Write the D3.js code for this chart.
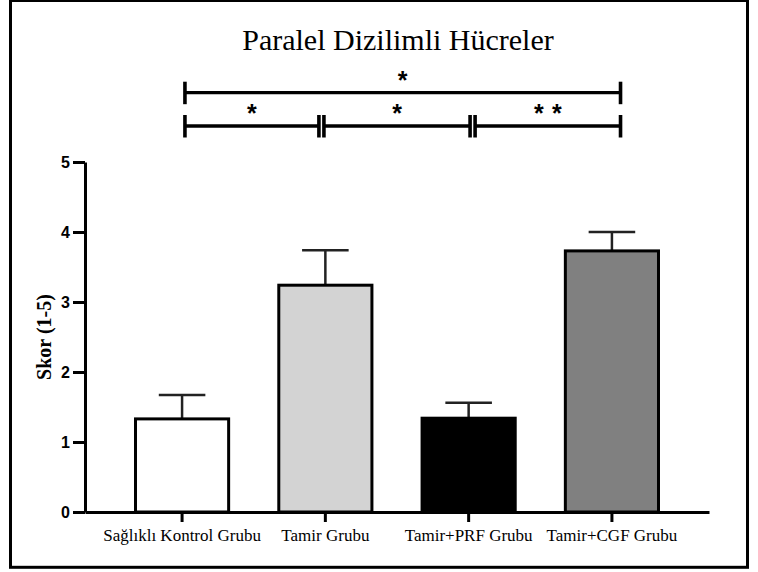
<!DOCTYPE html>
<html>
<head>
<meta charset="utf-8">
<script src="https://cdn.jsdelivr.net/npm/d3@7"></script>
<style>
  html, body { margin: 0; padding: 0; background: #fff; }
  svg { display: block; }
</style>
</head>
<body>
<svg id="chart" width="758" height="572"></svg>
<script>
// Group names, mean scores and their error (SD) values
const categories = ["Sağlıklı Kontrol Grubu", "Tamir Grubu", "Tamir+PRF Grubu", "Tamir+CGF Grubu"];
const means = [1.33, 3.24, 1.34, 3.73];
const errors = [0.34, 0.50, 0.22, 0.27];
const fills = ["#ffffff", "#d3d3d3", "#000000", "#808080"];
const yTicks = [0, 1, 2, 3, 4, 5];

// Significance brackets, in group-index units (0 = first group, 3 = last)
const bracketFrom = [0.02, 0.02, 0.99, 2.045];
const bracketTo = [3.06, 0.955, 2.01, 3.06];
const bracketRow = [0, 1, 1, 1];
const bracketStars = ["*", "*", "*", "**"];

const serif = "'Liberation Serif', 'Times New Roman', 'DejaVu Serif', serif";
const sans = "'Liberation Sans', Arial, 'DejaVu Sans', sans-serif";

const svg = d3.select("#chart");

// Outer frame
svg.append("rect")
  .attr("x", 10.5).attr("y", 0.5)
  .attr("width", 737).attr("height", 566.8)
  .attr("fill", "none").attr("stroke", "#000").attr("stroke-width", 3);

// Title
svg.append("text")
  .attr("x", 398).attr("y", 50)
  .attr("text-anchor", "middle")
  .style("font-family", serif)
  .style("font-size", "30px")
  .text("Paralel Dizilimli Hücreler");

const plot = { left: 85, right: 709, top: 162, bottom: 512 };

const x = d3.scaleBand()
  .domain(categories)
  .range([plot.left, plot.right])
  .paddingInner(0.35)
  .paddingOuter(0.3525)
  .align(0.5);

const y = d3.scaleLinear().domain([0, 5]).range([plot.bottom, plot.top]);

const bw = x.bandwidth();
const gx = d3.scaleLinear()
  .domain([0, categories.length - 1])
  .range([x(categories[0]) + bw / 2, x(categories[categories.length - 1]) + bw / 2]);

// Error bars (drawn first so the bar outline caps them)
const eb = svg.append("g").attr("stroke", "#222").attr("fill", "none");
categories.forEach((c, i) => {
  const cx = x(c) + bw / 2;
  eb.append("line")
    .attr("x1", cx).attr("x2", cx)
    .attr("y1", y(means[i])).attr("y2", y(means[i] + errors[i]))
    .attr("stroke-width", 2.5);
  eb.append("line")
    .attr("x1", cx - bw / 4).attr("x2", cx + bw / 4)
    .attr("y1", y(means[i] + errors[i])).attr("y2", y(means[i] + errors[i]))
    .attr("stroke-width", 2.5);
});

// Bars
svg.append("g")
  .selectAll("rect")
  .data(categories)
  .join("rect")
  .attr("x", d => x(d))
  .attr("y", (d, i) => y(means[i]))
  .attr("width", bw)
  .attr("height", (d, i) => y(0) - y(means[i]))
  .attr("fill", (d, i) => fills[i])
  .attr("stroke", "#000")
  .attr("stroke-width", 3);

// Y axis
const yAxis = svg.append("g")
  .attr("transform", `translate(${plot.left},0)`)
  .call(d3.axisLeft(y).tickValues(yTicks).tickFormat(d3.format("d"))
    .tickSize(12).tickSizeOuter(0).tickPadding(3));
yAxis.select(".domain").attr("stroke-width", 3);
yAxis.selectAll(".tick line").attr("stroke-width", 3);
yAxis.selectAll(".tick text")
  .style("font-family", sans)
  .style("font-weight", "bold")
  .style("font-size", "16px")
  .attr("fill", "#000");

// X axis
const xAxis = svg.append("g")
  .attr("transform", `translate(0,${plot.bottom})`)
  .call(d3.axisBottom(x).tickSize(10).tickSizeOuter(0).tickPadding(7));
xAxis.select(".domain").attr("stroke-width", 3);
xAxis.selectAll(".tick line").attr("stroke-width", 3);
xAxis.selectAll(".tick text")
  .style("font-family", serif)
  .style("font-size", "17px")
  .attr("fill", "#000");

// Y axis title
svg.append("text")
  .attr("transform", `translate(51,${(plot.top + plot.bottom) / 2}) rotate(-90)`)
  .attr("text-anchor", "middle")
  .style("font-family", serif)
  .style("font-weight", "bold")
  .style("font-size", "20px")
  .text("Skor (1-5)");

// Significance brackets
const rowY = [92.7, 126];
const br = svg.append("g");
bracketFrom.forEach((f, k) => {
  const x1 = gx(f), x2 = gx(bracketTo[k]), yy = rowY[bracketRow[k]];
  br.append("line")
    .attr("x1", x1).attr("x2", x2).attr("y1", yy).attr("y2", yy)
    .attr("stroke", "#000").attr("stroke-width", 3.3);
  [x1, x2].forEach(xx => {
    br.append("line")
      .attr("x1", xx).attr("x2", xx).attr("y1", yy - 11).attr("y2", yy + 11.5)
      .attr("stroke", "#000").attr("stroke-width", 3.6);
  });
  const stars = bracketStars[k].split("");
  const mid = (x1 + x2) / 2;
  stars.forEach((s, j) => {
    br.append("text")
      .attr("x", mid + (j - (stars.length - 1) / 2) * 18)
      .attr("y", yy - 4)
      .attr("text-anchor", "middle")
      .style("font-family", sans)
      .style("font-weight", "bold")
      .style("font-size", "25px")
      .text(s);
  });
});
</script>
</body>
</html>
